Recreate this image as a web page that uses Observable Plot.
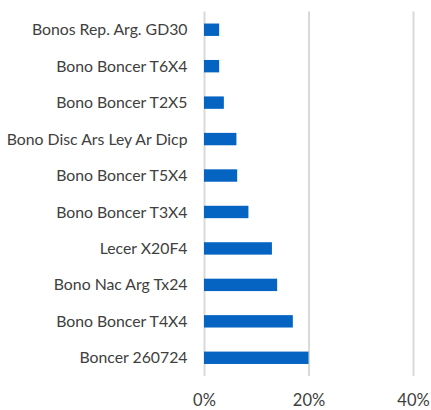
<!DOCTYPE html>
<html>
<head>
<meta charset="utf-8">
<script src="https://cdn.jsdelivr.net/npm/d3@7"></script>
<script src="https://cdn.jsdelivr.net/npm/@observablehq/plot@0.6"></script>
<style>
  html, body { margin: 0; padding: 0; background: #fff; }
  svg { display: block; }
</style>
</head>
<body>
<div id="chart"></div>
<script>
const categories = [
  "Bonos Rep. Arg. GD30",
  "Bono Boncer T6X4",
  "Bono Boncer T2X5",
  "Bono Disc Ars Ley Ar Dicp",
  "Bono Boncer T5X4",
  "Bono Boncer T3X4",
  "Lecer X20F4",
  "Bono Nac Arg Tx24",
  "Bono Boncer T4X4",
  "Boncer 260724"
];
const values = [2.9, 2.9, 3.8, 6.2, 6.35, 8.5, 13.0, 14.0, 17.0, 20.0];
const xTicks = [0, 20, 40];

const data = categories.map((c, i) => ({category: c, value: values[i]}));

const chart = Plot.plot({
  width: 431,
  height: 410,
  marginLeft: 204,
  marginRight: 18,
  marginTop: 11.5,
  marginBottom: 34,
  style: {fontFamily: "Lato, sans-serif", color: "#404040", background: "#fff"},
  x: {domain: [0, 40], ticks: xTicks, tickFormat: d => d + "%", label: null},
  y: {domain: categories, paddingInner: 0.66, paddingOuter: 0.33, round: false, label: null},
  marks: [
    Plot.ruleX(xTicks, {stroke: "#d9d9d9", strokeWidth: 2}),
    Plot.barX(data, {y: "category", x: "value", fill: "#0563C1"}),
    Plot.axisX({ticks: xTicks, tickFormat: d => d + "%", tickSize: 0, tickPadding: 18, fontSize: 16.5, fill: "#404040", label: null}),
    Plot.axisY({tickSize: 0, tickPadding: 17, fontSize: 15.8, fill: "#404040", label: null})
  ]
});
document.getElementById("chart").appendChild(chart);
</script>
</body>
</html>
